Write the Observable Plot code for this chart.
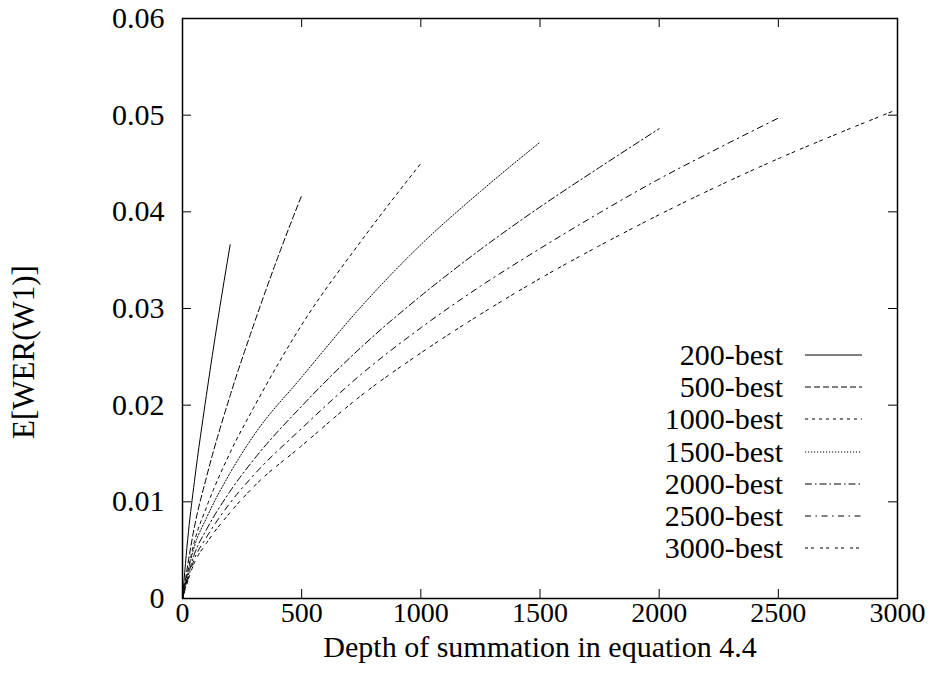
<!DOCTYPE html>
<html><head><meta charset="utf-8">
<script src="https://cdn.jsdelivr.net/npm/d3@7"></script>
<script src="https://cdn.jsdelivr.net/npm/@observablehq/plot@0.6"></script>
<style>
body{margin:0;background:#fff;}
#wrap{position:relative;width:940px;height:679px;font-family:"Liberation Serif","Times New Roman",serif;}
#wrap svg text{font-family:"Liberation Serif","Times New Roman",serif;}
.lt{position:absolute;font-family:"Liberation Serif","Times New Roman",serif;font-size:30px;color:#000;white-space:nowrap;text-align:right;line-height:30px;}
.ls{position:absolute;}
.yl{position:absolute;font-family:"Liberation Serif","Times New Roman",serif;font-size:31px;color:#000;white-space:nowrap;line-height:31px;transform:translate(-50%,-50%) rotate(-90deg);}
</style></head><body><div id="wrap"></div>
<script>
// Series names
const series = ["200-best","500-best","1000-best","1500-best","2000-best","2500-best","3000-best"];
// Depth values (x) per series
const depth200  = [0,25,50,100,150,200];
const depth500  = [0,50,100,200,300,400,500];
const depth1000 = [0,50,100,200,300,500,750,1000];
const depth1500 = [0,50,100,200,300,500,750,1000,1250,1500];
const depth2000 = [0,50,100,200,300,500,750,1000,1250,1500,1750,2000];
const depth2500 = [0,50,100,200,300,500,750,1000,1250,1500,1750,2000,2250,2500];
const depth3000 = [0,50,100,200,300,500,750,1000,1250,1500,1750,2000,2250,2500,2750,3000];
// E[WER(W1)] values per series
const wer200  = [0,0.0069,0.0121,0.0210,0.0291,0.0366];
const wer500  = [0,0.0074,0.0125,0.0210,0.0284,0.0353,0.0417];
const wer1000 = [0,0.0059,0.0094,0.0151,0.0198,0.0283,0.0370,0.0450];
const wer1500 = [0,0.0054,0.0083,0.0130,0.0169,0.0229,0.0302,0.0366,0.0421,0.0472];
const wer2000 = [0,0.0046,0.0071,0.0111,0.0144,0.0199,0.0260,0.0313,0.0361,0.0405,0.0446,0.0486];
const wer2500 = [0,0.0041,0.0063,0.0099,0.0128,0.0176,0.0232,0.0280,0.0323,0.0362,0.0399,0.0434,0.0466,0.0497];
const wer3000 = [0,0.0037,0.0057,0.0089,0.0116,0.0158,0.0210,0.0254,0.0294,0.0331,0.0365,0.0397,0.0427,0.0455,0.0481,0.0506];
// Tick values
const xTicks = [0,500,1000,1500,2000,2500,3000];
const yTicks = [0,0.01,0.02,0.03,0.04,0.05,0.06];
const yTickLabels = ["0","0.01","0.02","0.03","0.04","0.05","0.06"];
const xLabel = "Depth of summation in equation 4.4";
const yLabel = "E[WER(W1)]";
// Line styles
const dashes = [null,"6,3","3,4","1.2,1.8","7,3,1.5,3","6,4.5,1.5,4.5","3,3,3,6"];

const depths = [depth200,depth500,depth1000,depth1500,depth2000,depth2500,depth3000];
const wers = [wer200,wer500,wer1000,wer1500,wer2000,wer2500,wer3000];

const W = 940, H = 679, mL = 182, mR = 43, mT = 18, mB = 81;
const pw = W - mL - mR, ph = H - mT - mB;
const font = '"Liberation Serif","Times New Roman",serif';

const lineMarks = series.map((s, i) => Plot.line(depths[i].map((d, j) => ({x: d, y: wers[i][j]})), {
  x: "x", y: "y", stroke: "black", strokeWidth: 1, curve: "monotone-x",
  strokeDasharray: dashes[i] || undefined
}));

const plot = Plot.plot({
  width: W, height: H,
  marginLeft: mL, marginRight: mR, marginTop: mT, marginBottom: mB,
  style: {fontFamily: font, fontSize: "30px", color: "black", background: "white"},
  x: {domain: [0, 3000], label: null},
  y: {domain: [0, 0.06], label: null},
  marks: [
    ...lineMarks,
    Plot.axisX(xTicks, {tickSize: 0, tickPadding: 4, fontSize: 28, label: null, tickFormat: d => String(d)}),
    Plot.axisY(yTicks, {tickSize: 0, tickPadding: 18, fontSize: 30, label: null,
      tickFormat: d => yTickLabels[yTicks.indexOf(d)] ?? String(d)}),
    Plot.ruleY(yTicks, {stroke: "black", strokeWidth: 1, insetRight: pw - 9}),
    Plot.ruleY(yTicks, {stroke: "black", strokeWidth: 1, insetLeft: pw - 9}),
    Plot.ruleX(xTicks, {stroke: "black", strokeWidth: 1, insetTop: ph - 9}),
    Plot.ruleX(xTicks, {stroke: "black", strokeWidth: 1, insetBottom: ph - 9}),
    Plot.frame({stroke: "black", strokeWidth: 1.5}),
    Plot.text([xLabel], {text: d => d, frameAnchor: "bottom", dy: 58, fontSize: 30})
  ]
});
const wrap = document.getElementById("wrap");
wrap.appendChild(plot);

// Y-axis title
const yl = document.createElement("div");
yl.className = "yl";
yl.textContent = yLabel;
yl.style.left = "23px";
yl.style.top = "352px";
wrap.appendChild(yl);

// Legend (inside the frame, right side)
series.forEach((s, i) => {
  const cy = 355 + i * 32.2;
  const t = document.createElement("div");
  t.className = "lt";
  t.textContent = s;
  t.style.right = (W - 783) + "px";
  t.style.top = (cy - 15) + "px";
  wrap.appendChild(t);
  const svg = d3.create("svg").attr("class", "ls").attr("width", 60).attr("height", 6)
    .style("left", "804px").style("top", (cy - 3) + "px");
  svg.append("line").attr("x1", 1).attr("x2", 58).attr("y1", 3).attr("y2", 3)
    .attr("stroke", "black").attr("stroke-width", 1)
    .attr("stroke-dasharray", dashes[i]);
  wrap.appendChild(svg.node());
});
</script></body></html>
